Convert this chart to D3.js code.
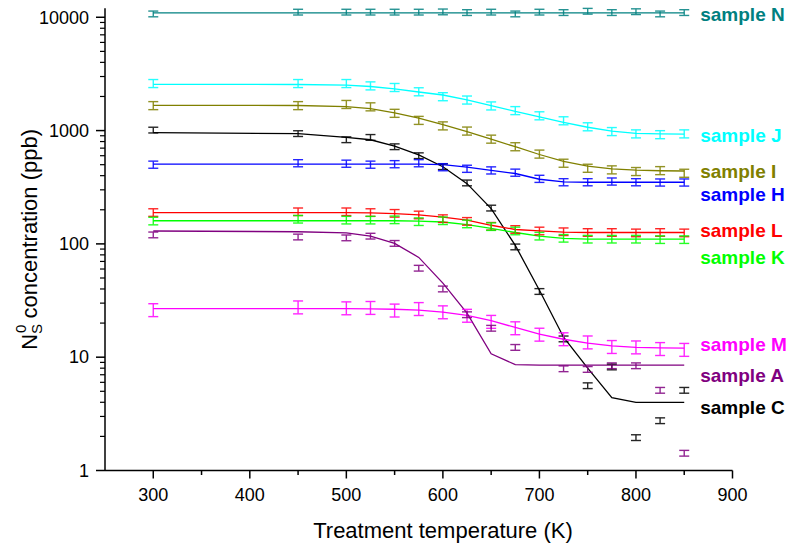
<!DOCTYPE html>
<html>
<head>
<meta charset="utf-8">
<script src="https://cdn.jsdelivr.net/npm/d3@7"></script>
<style>
    body { margin: 0; background: #fff; }
    svg { display: block; font-family: Arial, "Liberation Sans", sans-serif; }
</style>
</head>
<body>
<svg id="chart" width="795" height="552"></svg>
<script>
// Treatment temperature (K) of each measurement
const temps = [300, 450, 500, 525, 550, 575, 600, 625, 650, 675, 700, 725, 750, 775, 800, 825, 850];

// measured concentrations (ppb), one per temperature
const nPts = [10700, 11100, 11100, 11100, 11100, 11100, 11150, 11000, 11100, 10700, 11100, 11000, 11300, 11000, 11200, 10700, 11000];
const jPts = [2600, 2600, 2600, 2480, 2400, 2200, 1990, 1860, 1650, 1500, 1350, 1220, 1080, 980, 935, 920, 935];
const iPts = [1660, 1660, 1700, 1620, 1420, 1230, 1100, 990, 840, 720, 620, 515, 465, 450, 435, 443, 420];
const cPts = [1010, 940, 830, 870, 720, 600, 480, 345, 207, 94, 38, 14.5, 5.6, 8.2, 1.95, 2.75, 5.1];
const hPts = [500, 515, 510, 500, 505, 515, 475, 460, 445, 425, 375, 350, 350, 355, 350, 348, 348];
const lPts = [189, 192, 192, 189, 186, 180, 167, 158, 143, 134, 130, 128, 126, 126, 125, 126, 125];
const kPts = [159, 165, 162, 162, 163, 157, 160, 150, 142, 130, 117, 112, 110, 110, 110, 109, 109];
const mPts = [26, 27.5, 27, 27.2, 25.8, 26.6, 24.9, 23.2, 20.5, 18, 15.8, 14.4, 13.5, 12.3, 12.2, 11.8, 11.6];
const aPts = [120, 115, 113, 117, 101, 61, 40, 23.7, 18, 12.2, null, 7.9, 7.8, 8.4, 8.4, 5.1, 1.42];

// fitted curves, evaluated at the same temperatures
const nFit = [10950, 10950, 10950, 10950, 10950, 10950, 10950, 10950, 10950, 10950, 10950, 10950, 10950, 10950, 10950, 10950, 10950];
const jFit = [2560, 2550, 2520, 2450, 2330, 2190, 2060, 1870, 1660, 1480, 1320, 1180, 1070, 990, 945, 935, 932];
const iFit = [1670, 1665, 1630, 1560, 1430, 1290, 1130, 980, 840, 720, 615, 535, 485, 460, 448, 442, 440];
const cFit = [960, 940, 870, 830, 730, 610, 480, 340, 205, 97, 39, 15, 8.0, 4.4, 4.0, 4.0, 4.0];
const hFit = [505, 505, 505, 505, 505, 505, 500, 475, 445, 418, 372, 352, 350, 350, 350, 350, 350];
const lFit = [189, 189, 189, 188, 185, 180, 172, 162, 146, 134, 130, 127, 126, 126, 126, 126, 126];
const kFit = [160, 160, 160, 160, 160, 159, 156, 148, 137, 126, 117, 112, 110, 110, 110, 110, 110];
const mFit = [26.8, 26.8, 26.8, 26.7, 26.5, 26, 25, 23.4, 21, 18.3, 16, 14.4, 13.3, 12.6, 12.2, 12.1, 12.0];
const aFit = [130, 128, 125, 117, 101, 76, 45, 24.5, 10.7, 8.6, 8.5, 8.5, 8.5, 8.5, 8.5, 8.5, 8.5];

// relative error of each sample
const relErr = { N: 0.06, J: 0.085, I: 0.085, C: 0.06, H: 0.075, L: 0.08, K: 0.08, M: 0.14, A: 0.06 };

const samples = [
    { name: 'sample N', key: 'N', color: '#008080', pts: nPts, fit: nFit },
    { name: 'sample J', key: 'J', color: '#00ffff', pts: jPts, fit: jFit },
    { name: 'sample I', key: 'I', color: '#808000', pts: iPts, fit: iFit },
    { name: 'sample C', key: 'C', color: '#000000', pts: cPts, fit: cFit },
    { name: 'sample H', key: 'H', color: '#0000ff', pts: hPts, fit: hFit },
    { name: 'sample L', key: 'L', color: '#ff0000', pts: lPts, fit: lFit },
    { name: 'sample K', key: 'K', color: '#00ff00', pts: kPts, fit: kFit },
    { name: 'sample M', key: 'M', color: '#ff00ff', pts: mPts, fit: mFit },
    { name: 'sample A', key: 'A', color: '#800080', pts: aPts, fit: aFit }
];

const xMajor = [300, 400, 500, 600, 700, 800, 900];
const xMinor = [350, 450, 550, 650, 750, 850];
const yMajor = [1, 10, 100, 1000, 10000];

// label offsets (px) from the end of each fitted curve
const labelNudge = { N: 2, J: 1, I: 0, H: 12, L: -2, K: 18, M: -4, A: 10, C: 5 };

const svg = d3.select('#chart');
const x = d3.scaleLinear().domain([250, 900]).range([105, 732.5]);
const y = d3.scaleLog().domain([1, 12000]).range([470.5, 8.3]);

// y minor ticks 2..9 per decade
const yMinor = [];
yMajor.slice(0, -1).forEach(d => {
    for (let k = 2; k <= 9; k++) yMinor.push(d * k);
});

// Axes
const axisG = svg.append('g').attr('stroke', '#000');
axisG.append('line')
    .attr('x1', x(250)).attr('x2', x(900))
    .attr('y1', y(1)).attr('y2', y(1))
    .attr('stroke-width', 1.5);
axisG.append('line')
    .attr('x1', x(250)).attr('x2', x(250))
    .attr('y1', y(1)).attr('y2', y(12000))
    .attr('stroke-width', 1.5);

axisG.selectAll('.xmaj').data(xMajor).enter().append('line')
    .attr('x1', d => x(d)).attr('x2', d => x(d))
    .attr('y1', y(1)).attr('y2', y(1) + 8)
    .attr('stroke-width', 1.5);
axisG.selectAll('.xmin').data(xMinor).enter().append('line')
    .attr('x1', d => x(d)).attr('x2', d => x(d))
    .attr('y1', y(1)).attr('y2', y(1) + 4.5)
    .attr('stroke-width', 1.5);
axisG.selectAll('.ymaj').data(yMajor).enter().append('line')
    .attr('x1', x(250) - 9).attr('x2', x(250))
    .attr('y1', d => y(d)).attr('y2', d => y(d))
    .attr('stroke-width', 1.5);
axisG.selectAll('.ymin').data(yMinor).enter().append('line')
    .attr('x1', x(250) - 5).attr('x2', x(250))
    .attr('y1', d => y(d)).attr('y2', d => y(d))
    .attr('stroke-width', 1.2);

svg.selectAll('.xlab').data(xMajor).enter().append('text')
    .attr('x', d => x(d))
    .attr('y', y(1) + 30)
    .attr('text-anchor', 'middle')
    .attr('font-size', '18px')
    .text(d => d);

svg.selectAll('.ylab').data(yMajor).enter().append('text')
    .attr('x', x(250) - 16)
    .attr('y', d => y(d))
    .attr('dy', '0.35em')
    .attr('text-anchor', 'end')
    .attr('font-size', '18px')
    .text(d => d);

// Axis titles
svg.append('text')
    .attr('x', 443)
    .attr('y', 538)
    .attr('text-anchor', 'middle')
    .attr('font-size', '22px')
    .text('Treatment temperature (K)');

const yTitle = svg.append('text')
    .attr('transform', `translate(37, ${(y(1) + y(12000)) / 2}) rotate(-90)`)
    .attr('text-anchor', 'middle')
    .attr('font-size', '22px');
yTitle.append('tspan').text('N');
yTitle.append('tspan').attr('font-size', '15px').attr('dy', 5).text('S');
yTitle.append('tspan').attr('font-size', '15px').attr('dx', -9).attr('dy', -16).text('0');
yTitle.append('tspan').attr('dy', 11).text(' concentration (ppb)');

// Fitted curves
const line = d3.line()
    .defined(d => d.v != null)
    .x(d => x(d.t))
    .y(d => y(d.v));

samples.forEach(s => {
    const fitData = temps.map((t, i) => ({ t: t, v: s.fit[i] }));
    svg.append('path')
        .datum(fitData)
        .attr('fill', 'none')
        .attr('stroke', s.color)
        .attr('stroke-width', 1.3)
        .attr('d', line);
});

// Measured points with error bars
samples.forEach(s => {
    const e = relErr[s.key];
    const pts = temps.map((t, i) => ({ t: t, v: s.pts[i] })).filter(d => d.v != null);
    const g = svg.append('g')
        .attr('stroke', s.color)
        .attr('stroke-width', 1.4)
        .attr('opacity', 0.85);
    const bars = g.selectAll('g').data(pts).enter().append('g');
    bars.append('line')
        .attr('x1', d => x(d.t)).attr('x2', d => x(d.t))
        .attr('y1', d => y(d.v * (1 + e))).attr('y2', d => y(d.v / (1 + e)));
    bars.append('line')
        .attr('x1', d => x(d.t) - 5).attr('x2', d => x(d.t) + 5)
        .attr('y1', d => y(d.v * (1 + e))).attr('y2', d => y(d.v * (1 + e)));
    bars.append('line')
        .attr('x1', d => x(d.t) - 5).attr('x2', d => x(d.t) + 5)
        .attr('y1', d => y(d.v / (1 + e))).attr('y2', d => y(d.v / (1 + e)));
});

// Sample labels at the right
samples.forEach(s => {
    const last = s.fit[s.fit.length - 1];
    svg.append('text')
        .attr('x', x(850) + 16)
        .attr('y', y(last) + labelNudge[s.key])
        .attr('dy', '0.35em')
        .attr('font-size', '19px')
        .attr('font-weight', 'bold')
        .attr('fill', s.color)
        .text(s.name);
});
</script>
</body>
</html>
